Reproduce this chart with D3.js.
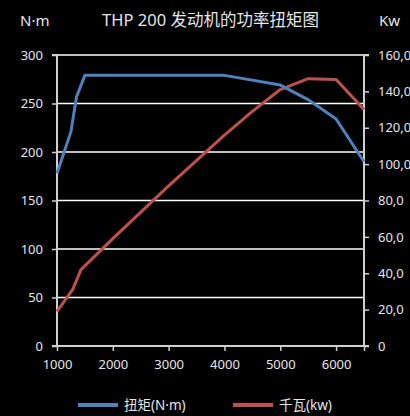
<!DOCTYPE html>
<html><head><meta charset="utf-8">
<script src="https://cdn.jsdelivr.net/npm/d3@7"></script>
<style>
html,body{margin:0;padding:0;background:#000;overflow:hidden;}
svg{display:block;}
text{font-family:"Noto Sans","Noto Sans CJK SC",sans-serif;fill:#e6e6e6;}
</style></head>
<body>
<svg id="chart" width="410" height="416"></svg>
<script>
const title = "THP 200 发动机的功率扭矩图";
const leftUnit = "N·m";
const rightUnit = "Kw";
const torqueName = "扭矩(N·m)";
const powerName = "千瓦(kw)";
const torqueRpm = [1000, 1250, 1350, 1500, 4000, 5000, 5500, 6000, 6500];
const torqueVal = [178, 221, 257, 279, 279, 269, 254, 234, 190];
const powerRpm = [1000, 1280, 1430, 2000, 3000, 4000, 4500, 5000, 5500, 6000, 6500];
const powerVal = [19, 31, 42, 59, 88, 116, 129, 141, 147, 146.5, 130];
const xTicks = [1000, 2000, 3000, 4000, 5000, 6000];
const leftTicks = [0, 50, 100, 150, 200, 250, 300];
const rightTicks = [0, 20, 40, 60, 80, 100, 120, 140, 160];

const W = 410, H = 416;
const m = {l: 57, r: 46, t: 55, b: 70};
const svg = d3.select("#chart");
const x = d3.scaleLinear().domain([1000, 6500]).range([m.l, W - m.r]);
const yL = d3.scaleLinear().domain([0, 300]).range([H - m.b, m.t]);
const yR = d3.scaleLinear().domain([0, 160]).range([H - m.b, m.t]);

// gridlines
svg.append("g").selectAll("line").data(leftTicks.filter(d => d > 0)).join("line")
  .attr("x1", m.l).attr("x2", W - m.r)
  .attr("y1", d => yL(d)).attr("y2", d => yL(d))
  .attr("stroke", "#ffffff").attr("stroke-width", 1.5);

// axes
const fmtR = d => d === 0 ? "0" : d3.format(".1f")(d).replace(".", ",");
const gL = svg.append("g").attr("transform", `translate(${m.l},0)`)
  .call(d3.axisLeft(yL).tickValues(leftTicks).tickSize(5).tickPadding(9));
const gR = svg.append("g").attr("transform", `translate(${W - m.r},0)`)
  .call(d3.axisRight(yR).tickValues(rightTicks).tickSize(5).tickPadding(9).tickFormat(fmtR));
const gB = svg.append("g").attr("transform", `translate(0,${H - m.b})`)
  .call(d3.axisBottom(x).tickValues(xTicks.concat([6500])).tickSize(5).tickPadding(9)
    .tickFormat(d => d === 6500 ? "" : d));
[gL, gR, gB].forEach(g => {
  g.select(".domain").attr("stroke", "#d0d0d0").attr("stroke-width", 2);
  g.selectAll(".tick line").attr("stroke", "#d0d0d0").attr("stroke-width", 1.5);
  g.selectAll(".tick text").attr("fill", "#e6e6e6").style("font-size", "13px")
    .style("font-family", '"Noto Sans",sans-serif');
});
gL.select(".domain").attr("d", `M-5,${yL(300)}H0V${yL(0)}H-5`);
gR.select(".domain").attr("d", `M5,${yR(160)}H0V${yR(0)}H5`);
gB.select(".domain").attr("d", `M${m.l},0H${W - m.r}`);

// lines
const torque = torqueRpm.map((r, i) => [r, torqueVal[i]]);
const power = powerRpm.map((r, i) => [r, powerVal[i]]);
svg.append("path").datum(power)
  .attr("d", d3.line().x(d => x(d[0])).y(d => yR(d[1])))
  .attr("fill", "none").attr("stroke", "#c0504d").attr("stroke-width", 3).attr("stroke-linejoin", "round");
svg.append("path").datum(torque)
  .attr("d", d3.line().x(d => x(d[0])).y(d => yL(d[1])))
  .attr("fill", "none").attr("stroke", "#4f81bd").attr("stroke-width", 3).attr("stroke-linejoin", "round");

// titles
svg.append("text").attr("x", 210.5).attr("y", 26).attr("text-anchor", "middle")
  .style("font-size", "16.5px").text(title);
svg.append("text").attr("x", 20).attr("y", 26).style("font-size", "15px").text(leftUnit);
svg.append("text").attr("x", 379).attr("y", 26).style("font-size", "15px").text(rightUnit);

// legend
const legend = [{name: torqueName, color: "#4f81bd", x: 78}, {name: powerName, color: "#c0504d", x: 233}];
const lg = svg.append("g").selectAll("g").data(legend).join("g")
  .attr("transform", d => `translate(${d.x},405)`);
lg.append("line").attr("x1", 0).attr("x2", 40).attr("y1", 0).attr("y2", 0)
  .attr("stroke", d => d.color).attr("stroke-width", 4);
lg.append("text").attr("x", 46).attr("y", 0).attr("dy", "0.35em")
  .style("font-size", "13.5px").text(d => d.name);
</script>
</body></html>
